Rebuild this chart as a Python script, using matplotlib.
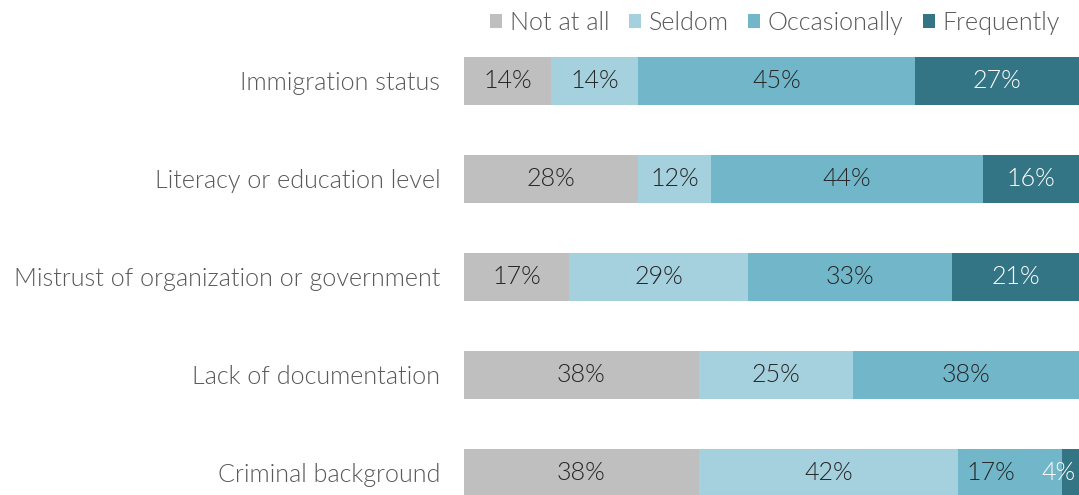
import matplotlib
matplotlib.use("Agg")
import matplotlib.pyplot as plt
from matplotlib.patches import Patch
import numpy as np

plt.rcParams['font.family'] = ['Lato', 'DejaVu Sans']
W = 300
FS = 18.1

categories = ["Immigration status", "Literacy or education level",
              "Mistrust of organization or government", "Lack of documentation",
              "Criminal background"]
series_names = ["Not at all", "Seldom", "Occasionally", "Frequently"]
not_at_all = [14.1, 28.3, 17.1, 38.2, 38.2]
seldom = [14.2, 11.9, 29.1, 25.1, 42.1]
occasionally = [45.0, 44.2, 33.2, 36.7, 16.9]
frequently = [26.7, 15.6, 20.7, 0.0, 2.8]
not_at_all_labels = ["14%", "28%", "17%", "38%", "38%"]
seldom_labels = ["14%", "12%", "29%", "25%", "42%"]
occasionally_labels = ["45%", "44%", "33%", "38%", "17%"]
frequently_labels = ["27%", "16%", "21%", "", "4%"]

colors = ["#BFBFBF", "#A5D1DE", "#72B7C9", "#347585"]
text_colors = ["#262626", "#262626", "#262626", "#FFFFFF"]

fig = plt.figure(figsize=(10.79, 4.95), dpi=100)
ax = fig.add_axes([464/1079, 0, 1 - 464/1079, 463/495])

y = np.arange(len(categories))
series = [np.array(s) for s in [not_at_all, seldom, occasionally, frequently]]
labels = [not_at_all_labels, seldom_labels, occasionally_labels, frequently_labels]
left = np.zeros(len(categories))
lefts = []
for vals, c, name in zip(series, colors, series_names):
    ax.barh(y, vals, left=left, height=0.49, color=c, label=name, edgecolor='none')
    lefts.append(left.copy())
    left = left + vals

for k, (vals, labs, tc) in enumerate(zip(series, labels, text_colors)):
    for i in range(len(categories)):
        v, l, lab = vals[i], lefts[k][i], labs[i]
        if v <= 0 or not lab:
            continue
        if v < 5:
            ax.text(99.4, i, lab, ha='right', va='center', color=tc,
                    fontsize=FS, fontweight=W)
        else:
            x = l + v / 2
            if k + 1 < len(series) and 0 < series[k + 1][i] < 5:
                x -= 3
            ax.text(x, i, lab, ha='center', va='center', color=tc,
                    fontsize=FS, fontweight=W)

ax.set_xlim(0, 100)
ax.set_ylim(4.2245, -0.5)
ax.set_yticks(y)
ax.set_yticklabels(categories, fontsize=FS, color='#595959', fontweight=W)
ax.tick_params(axis='y', length=0, pad=17)
ax.set_xticks([])
for s in ax.spines.values():
    s.set_visible(False)

handles = [Patch(facecolor=c, edgecolor='none') for c in colors]
leg = fig.legend(handles, series_names, loc='upper right', bbox_to_anchor=(1064/1079, 0.986),
                 ncol=4, frameon=False, prop={'size': FS, 'weight': W}, handlelength=0.5,
                 handleheight=0.5, handletextpad=0.3, columnspacing=0.76, labelcolor='#595959',
                 borderpad=0.15, borderaxespad=0.0)

fig.savefig("out.png", dpi=100)
